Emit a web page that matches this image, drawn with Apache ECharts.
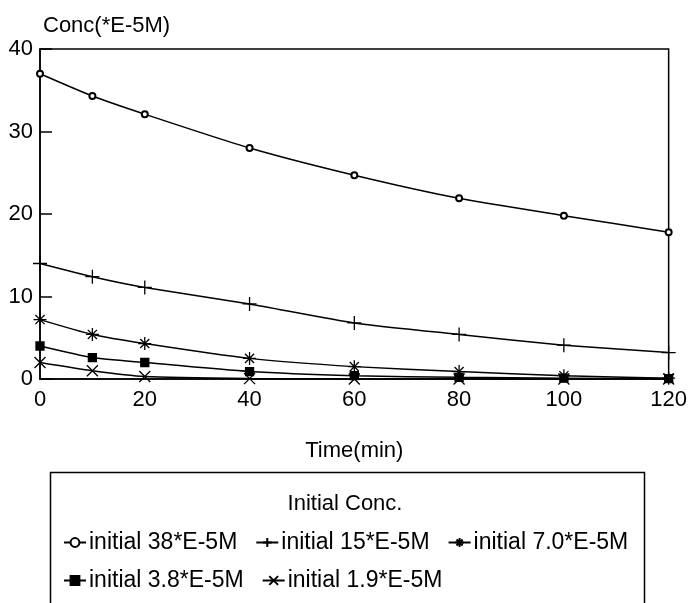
<!DOCTYPE html>
<html>
<head>
<meta charset="utf-8">
<script src="https://cdn.jsdelivr.net/npm/echarts@6/dist/echarts.min.js"></script>
<style>
  html, body { margin: 0; padding: 0; background: #fff; }
  #chart { width: 690px; height: 603px; }
</style>
</head>
<body>
<div id="chart"></div>
<script>
  // time points (min)
  var times = [0, 10, 20, 40, 60, 80, 100, 120]
  // concentrations (*E-5M)
  var conc38 = [37.0, 34.3, 32.1, 28.0, 24.7, 21.9, 19.8, 17.8]
  var conc15 = [14.0, 12.4, 11.1, 9.1, 6.8, 5.4, 4.1, 3.2]
  var conc70 = [7.2, 5.4, 4.3, 2.5, 1.5, 0.9, 0.4, 0.1]
  var conc38s = [4.0, 2.6, 2.0, 0.9, 0.4, 0.2, 0.1, 0.05]
  var conc19 = [2.0, 1.0, 0.3, 0.05, 0, 0, 0, 0]
  var names = ['initial 38*E-5M', 'initial 15*E-5M', 'initial 7.0*E-5M', 'initial 3.8*E-5M', 'initial 1.9*E-5M']

  var FONT = '"Liberation Sans", Arial, Helvetica, sans-serif'

  var plusPath = 'path://M0,-7L0,7M-5,0L5,0'
  var starPath = 'path://M-6,0L6,0M0,-6L0,6M-4.2,-4.2L4.2,4.2M-4.2,4.2L4.2,-4.2'
  var crossPath = 'path://M-5,-5L5,5M-5,5L5,-5'

  function pairs(vals) {
    var out = []
    for (var i = 0; i < times.length; i++) {
      out.push([times[i], vals[i]])
    }
    return out
  }

  function makeSeries(name, vals, symbol, size) {
    return {
      name: name,
      type: 'line',
      data: pairs(vals),
      symbol: symbol,
      symbolSize: size,
      smooth: 0.2,
      showAllSymbol: true,
      lineStyle: {color: '#000', width: 1.5},
      itemStyle: {color: '#000', borderColor: '#000', borderWidth: 1.3},
      emphasis: {disabled: true}
    }
  }

  var legendText = {fontFamily: FONT, fontSize: 23, color: '#000', padding: [0, 0, 0, -2]}

  var chart = echarts.init(document.getElementById('chart'))
  chart.setOption({
    animation: false,
    backgroundColor: '#fff',
    textStyle: {fontFamily: FONT, color: '#000'},
    title: [
      {text: 'Conc(*E-5M)', left: 38, top: 10, textStyle: {fontFamily: FONT, fontSize: 22, fontWeight: 'normal', color: '#000'}},
      {text: 'Initial Conc.', left: 'center', top: 488, textStyle: {fontFamily: FONT, fontSize: 22, fontWeight: 'normal', color: '#000'}}
    ],
    grid: {left: 40, right: 20, top: 49, bottom: 224, show: true, borderColor: '#000', borderWidth: 1.5},
    xAxis: {
      type: 'value', min: 0, max: 120, interval: 20,
      name: 'Time(min)', nameLocation: 'middle', nameGap: 61,
      nameTextStyle: {fontFamily: FONT, fontSize: 22, color: '#000'},
      axisLine: {lineStyle: {color: '#000', width: 1.5}},
      axisTick: {show: false},
      axisLabel: {fontFamily: FONT, fontSize: 22, color: '#000', margin: 10},
      splitLine: {show: false}
    },
    yAxis: {
      type: 'value', min: 0, max: 40, interval: 10,
      axisLine: {show: true, lineStyle: {color: '#000', width: 1.5}},
      axisTick: {show: true, inside: true, length: 12, lineStyle: {color: '#000', width: 1.5}},
      axisLabel: {fontFamily: FONT, fontSize: 22, color: '#000', margin: 7},
      splitLine: {show: false}
    },
    legend: [
      {
        data: names.slice(0, 3), left: 58, top: 526, itemGap: 18, itemWidth: 22, itemHeight: 11,
        textStyle: legendText
      },
      {
        data: names.slice(3), left: 58, top: 564, itemGap: 18, itemWidth: 22, itemHeight: 11,
        textStyle: legendText
      }
    ],
    graphic: [
      {type: 'rect', left: 48, top: 470, shape: {width: 594, height: 150}, style: {fill: 'none', stroke: '#000', lineWidth: 1.5}, silent: true}
    ],
    series: [
      makeSeries(names[0], conc38, 'emptyCircle', 6),
      makeSeries(names[1], conc15, plusPath, 14),
      makeSeries(names[2], conc70, starPath, 13),
      makeSeries(names[3], conc38s, 'rect', 8),
      makeSeries(names[4], conc19, crossPath, 11)
    ]
  })
</script>
</body>
</html>
